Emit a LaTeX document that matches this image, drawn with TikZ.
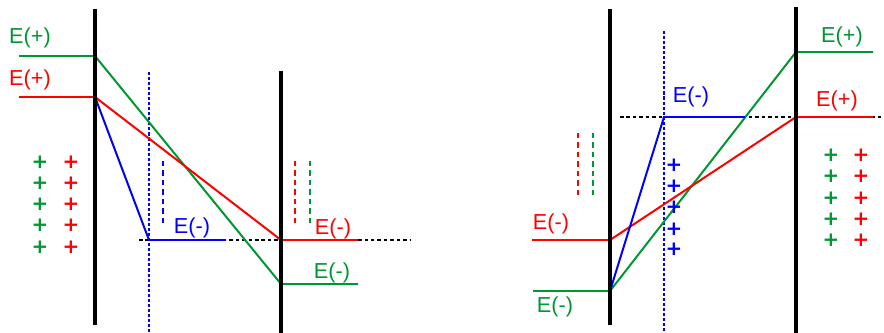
\documentclass[tikz,border=0pt]{standalone}
\usepackage{fontspec}
\setmainfont{Liberation Sans}
\newfontfamily\plusfont{DejaVu Sans}
\definecolor{cgreen}{RGB}{0,150,50}
\definecolor{cred}{RGB}{255,0,0}
\definecolor{cblue}{RGB}{0,0,255}
\begin{document}
\begin{tikzpicture}[x=0.03cm,y=-0.03cm,
  wall/.style={line width=3.4pt,black},
  lev/.style={line width=1.7pt},
  blueline/.style={line width=1.4pt,cblue,dash pattern=on 2.6pt off 1.7pt},
  shortdash/.style={line width=1.8pt,dash pattern=on 4.5pt off 3.6pt},
  refline/.style={line width=1.2pt,black,dash pattern=on 3pt off 2.5pt},
  lbl/.style={font=\fontsize{18.5}{20}\selectfont,inner sep=0pt},
  pl/.style={font=\plusfont\fontsize{17}{17}\selectfont\bfseries,inner sep=0pt}]
\useasboundingbox (0,0) rectangle (884,333);
% ---------- left panel ----------
\coordinate (LW1t) at (95,9); \coordinate (LW1b) at (95,325);
\coordinate (LW2t) at (281,71); \coordinate (LW2b) at (281,333);
\coordinate (LBt) at (149,72); \coordinate (LBb) at (149,333);
\coordinate (Lref1) at (139,240); \coordinate (Lref2) at (410,240);
\draw[refline] (Lref1) -- (Lref2);
\draw[blueline] (LBt) -- (LBb);
% green
\coordinate (Lg0) at (19,56); \coordinate (Lg1) at (95,56);
\coordinate (Lg2) at (281,284); \coordinate (Lg3) at (358,284);
\draw[lev,cgreen] (Lg0) -- (Lg1) -- (Lg2) -- (Lg3);
% red
\coordinate (Lr0) at (19,97); \coordinate (Lr1) at (95,97);
\coordinate (Lr2) at (281,240); \coordinate (Lr3) at (358,240);
\draw[lev,cred] (Lr0) -- (Lr1) -- (Lr2) -- (Lr3);
% blue
\coordinate (Lb2) at (149,240); \coordinate (Lb3) at (226,240);
\draw[lev,cblue] (Lr1) -- (Lb2) -- (Lb3);
\draw[wall] (LW1t) -- (LW1b);
\draw[wall] (LW2t) -- (LW2b);
% short dashes
\coordinate (Ld1a) at (163,161); \coordinate (Ld1b) at (163,227);
\coordinate (Ld2a) at (295,161); \coordinate (Ld2b) at (295,227);
\coordinate (Ld3a) at (310,161); \coordinate (Ld3b) at (310,227);
\draw[shortdash,cblue] (Ld1a) -- (Ld1b);
\draw[shortdash,cred] (Ld2a) -- (Ld2b);
\draw[shortdash,cgreen] (Ld3a) -- (Ld3b);
% labels
\node[lbl,cgreen] (LgEp) at (30,38) {E(+)};
\node[lbl,cred] (LrEp) at (30,80) {E(+)};
\node[lbl,cblue] (LbEm) at (192,228) {E(-)};
\node[lbl,cred] (LrEm) at (333,229) {E(-)};
\node[lbl,cgreen] (LgEm) at (332,273) {E(-)};
% plus signs
\foreach \y [count=\i] in {162,183,204,225,247} {
  \node[pl,cgreen] (Lpg\i) at (40,\y) {+};
  \node[pl,cred] (Lpr\i) at (71,\y) {+};
}
% ---------- right panel ----------
\coordinate (RW1t) at (610,9); \coordinate (RW1b) at (610,325);
\coordinate (RW2t) at (796,7); \coordinate (RW2b) at (796,333);
\coordinate (RBt) at (664,31); \coordinate (RBb) at (664,333);
\coordinate (Rref1) at (620,117); \coordinate (Rref2) at (884,117);
\draw[refline] (Rref1) -- (Rref2);
\draw[blueline] (RBt) -- (RBb);
% green
\coordinate (Rg0) at (533,291); \coordinate (Rg1) at (610,291);
\coordinate (Rg2) at (796,52); \coordinate (Rg3) at (873,52);
\draw[lev,cgreen] (Rg0) -- (Rg1) -- (Rg2) -- (Rg3);
% red
\coordinate (Rr0) at (532,240); \coordinate (Rr1) at (610,240);
\coordinate (Rr2) at (796,117); \coordinate (Rr3) at (873,117);
\draw[lev,cred] (Rr0) -- (Rr1) -- (Rr2) -- (Rr3);
% blue
\coordinate (Rb2) at (664,117); \coordinate (Rb3) at (745,117);
\draw[lev,cblue] (Rg1) -- (Rb2) -- (Rb3);
\draw[wall] (RW1t) -- (RW1b);
\draw[wall] (RW2t) -- (RW2b);
% short dashes
\coordinate (Rd1a) at (578,133); \coordinate (Rd1b) at (578,199);
\coordinate (Rd2a) at (593,133); \coordinate (Rd2b) at (593,199);
\draw[shortdash,cred] (Rd1a) -- (Rd1b);
\draw[shortdash,cgreen] (Rd2a) -- (Rd2b);
% labels
\node[lbl,cblue] (RbEm) at (691,97) {E(-)};
\node[lbl,cgreen] (RgEp) at (842,37) {E(+)};
\node[lbl,cred] (RrEp) at (837,101) {E(+)};
\node[lbl,cred] (RrEm) at (551,224) {E(-)};
\node[lbl,cgreen] (RgEm) at (555,307) {E(-)};
% plus signs
\foreach \y [count=\i] in {165,186,207,229,249} {
  \node[pl,cblue] (Rpb\i) at (674,\y) {+};
}
\foreach \y [count=\i] in {155,176,198,219,240} {
  \node[pl,cgreen] (Rpg\i) at (831,\y) {+};
  \node[pl,cred] (Rpr\i) at (861,\y) {+};
}
\end{tikzpicture}
\end{document}
